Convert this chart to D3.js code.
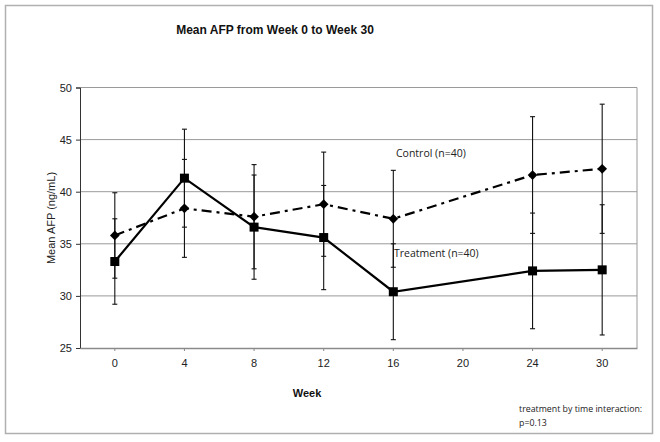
<!DOCTYPE html>
<html>
<head>
<meta charset="utf-8">
<script src="https://cdn.jsdelivr.net/npm/d3@7/dist/d3.min.js"></script>
<style>
  html, body { margin: 0; padding: 0; background: #fff; }
  svg { display: block; }
</style>
</head>
<body>
<script>
const weeks = ["0", "4", "8", "12", "16", "20", "24", "30"];
const controlMean = [35.8, 38.4, 37.6, 38.8, 37.4, null, 41.6, 42.2];
const controlErr  = [4.1, 4.7, 5.0, 5.0, 4.65, null, 5.6, 6.2];
const treatmentMean = [33.3, 41.3, 36.6, 35.6, 30.4, null, 32.4, 32.5];
const treatmentErr  = [4.1, 4.7, 5.0, 5.0, 4.6, null, 5.55, 6.25];
const yTicks = [25, 30, 35, 40, 45, 50];
const title = "Mean AFP from Week 0 to Week 30";
const yTitle = "Mean AFP (ng/mL)";
const xTitle = "Week";
const note = ["treatment by time interaction:", "p=0.13"];

const W = 660, H = 442;
const svg = d3.select("body").append("svg").attr("width", W).attr("height", H);

// outer chart border
svg.append("rect").attr("x", 5.5).attr("y", 5.5).attr("width", 647).attr("height", 428)
  .attr("fill", "#fff").attr("stroke", "#b0b0b0").attr("stroke-width", 1.5);

const L = 80, R = 637, T = 87.5, B = 348;
const x = d3.scaleBand().domain(weeks).range([L, R]).padding(0);
const y = d3.scaleLinear().domain([25, 50]).range([B, T]);
const cx = w => x(w) + x.bandwidth() / 2;

// gridlines
svg.append("g").selectAll("line").data(yTicks.filter(t => t > 25)).join("line")
  .attr("x1", L).attr("x2", R).attr("y1", d => y(d)).attr("y2", d => y(d))
  .attr("stroke", "#9a9a9a").attr("stroke-width", 1);
// plot area right border
svg.append("line").attr("x1", R).attr("x2", R).attr("y1", T).attr("y2", B)
  .attr("stroke", "#9a9a9a").attr("stroke-width", 1);

// y axis
const yAxis = d3.axisLeft(y).tickValues(yTicks).tickSize(4).tickPadding(4);
const gy = svg.append("g").attr("transform", `translate(${L},0)`).call(yAxis);
gy.select(".domain").attr("stroke", "#333");
gy.selectAll(".tick line").attr("stroke", "#333");
gy.selectAll("text").attr("font-family", "Liberation Sans, Arial, sans-serif")
  .attr("font-size", 11).attr("fill", "#222");

// x axis
const xAxis = d3.axisBottom(x).tickSize(3).tickPadding(8).tickSizeOuter(0);
const gx = svg.append("g").attr("transform", `translate(0,${B})`).call(xAxis);
gx.select(".domain").attr("stroke", "#8a8a8a").attr("stroke-width", 1.5);
gx.selectAll(".tick line").attr("stroke", "#8a8a8a");
gx.selectAll("text").attr("font-family", "Liberation Sans, Arial, sans-serif")
  .attr("font-size", 11).attr("fill", "#222");

function series(means, errs) {
  return weeks.map((w, i) => ({ w, v: means[i], e: errs[i] })).filter(d => d.v != null);
}
const ctrl = series(controlMean, controlErr);
const trt = series(treatmentMean, treatmentErr);

// error bars
function errorBars(data) {
  const g = svg.append("g").attr("stroke", "#111").attr("stroke-width", 1.1);
  g.selectAll(".v").data(data).join("line")
    .attr("x1", d => cx(d.w)).attr("x2", d => cx(d.w))
    .attr("y1", d => y(d.v + d.e)).attr("y2", d => y(d.v - d.e));
  ["hi", "lo"].forEach(k => {
    g.selectAll("." + k).data(data).join("line")
      .attr("x1", d => cx(d.w) - 2.5).attr("x2", d => cx(d.w) + 2.5)
      .attr("y1", d => y(k === "hi" ? d.v + d.e : d.v - d.e))
      .attr("y2", d => y(k === "hi" ? d.v + d.e : d.v - d.e));
  });
}
errorBars(ctrl);
errorBars(trt);

const line = d3.line().x(d => cx(d.w)).y(d => y(d.v));
// control: dash-dot
svg.append("path").datum(ctrl).attr("d", line).attr("fill", "none")
  .attr("stroke", "#000").attr("stroke-width", 2.2).attr("stroke-dasharray", "10,5,3,5");
// treatment: solid
svg.append("path").datum(trt).attr("d", line).attr("fill", "none")
  .attr("stroke", "#000").attr("stroke-width", 2.2);

// markers
svg.append("g").selectAll("path").data(ctrl).join("path")
  .attr("d", d3.symbol().type(d3.symbolDiamond2).size(60))
  .attr("transform", d => `translate(${cx(d.w)},${y(d.v)})`)
  .attr("fill", "#000");
svg.append("g").selectAll("rect").data(trt).join("rect")
  .attr("x", d => cx(d.w) - 4.5).attr("y", d => y(d.v) - 4.5)
  .attr("width", 9).attr("height", 9).attr("fill", "#000");

// series labels
const lblFont = "Open Sans, Liberation Sans, sans-serif";
svg.append("text").attr("x", 396).attr("y", 157).text("Control (n=40)")
  .attr("font-family", lblFont).attr("font-size", 10.5).attr("fill", "#222");
svg.append("text").attr("x", 394).attr("y", 257).text("Treatment (n=40)")
  .attr("font-family", lblFont).attr("font-size", 10.5).attr("fill", "#222");

// titles
svg.append("text").attr("x", 275).attr("y", 33.5).attr("text-anchor", "middle")
  .attr("font-family", "Liberation Sans, Arial, sans-serif").attr("font-weight", "bold")
  .attr("font-size", 12).attr("fill", "#111").text(title);
svg.append("text").attr("x", 307).attr("y", 397).attr("text-anchor", "middle")
  .attr("font-family", "Liberation Sans, Arial, sans-serif").attr("font-weight", "bold")
  .attr("font-size", 11).attr("fill", "#111").text(xTitle);
svg.append("text").attr("transform", "translate(55,218) rotate(-90)").attr("text-anchor", "middle")
  .attr("font-family", "Liberation Sans, Arial, sans-serif")
  .attr("font-size", 11).attr("fill", "#222").text(yTitle);

// note
svg.append("g").selectAll("text").data(note).join("text")
  .attr("x", 519).attr("y", (d, i) => 412 + i * 14)
  .attr("font-family", lblFont).attr("font-size", 8.8).attr("fill", "#222").text(d => d);
</script>
</body>
</html>
